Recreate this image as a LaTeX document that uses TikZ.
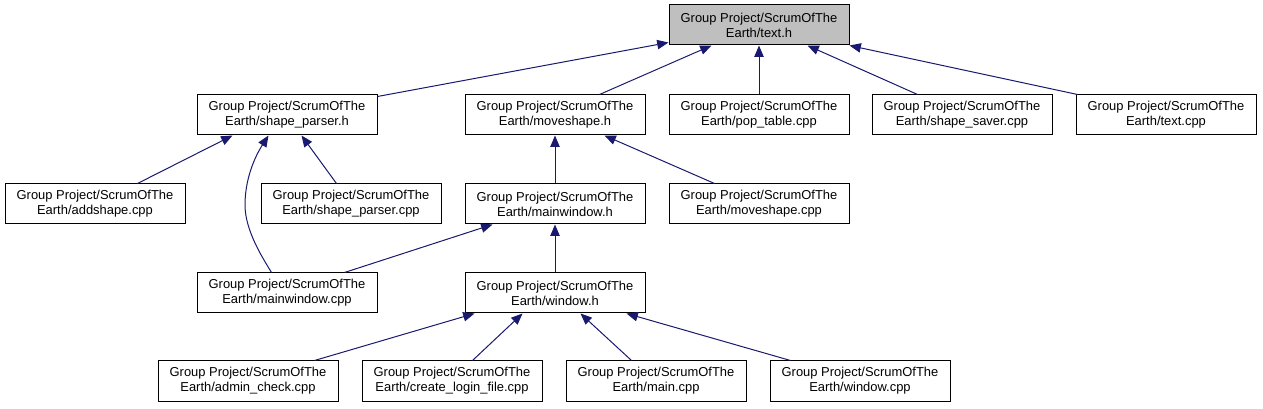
\documentclass[tikz,border=0pt]{standalone}
\usepackage{fontspec}
\setmainfont{Liberation Sans}
\usetikzlibrary{arrows.meta,calc}
\definecolor{edgeblue}{RGB}{25,25,112}
\definecolor{hilite}{RGB}{191,191,191}
\begin{document}
\begin{tikzpicture}[x=0.75pt,y=-0.75pt,
  filebox/.style={draw=black,line width=0.75pt,fill=white,minimum width=135pt,minimum height=30pt,inner sep=0pt,align=center,font=\fontsize{9.7pt}{11.25pt}\selectfont},
  dep/.style={draw=edgeblue,line width=0.75pt,-{Triangle[length=8.5pt,width=7pt]}}]
\useasboundingbox (0,0) rectangle (1263,409);
\fill[white] (0,0) rectangle (1263,409);
% nodes
\node[filebox,fill=hilite] (texth) at (759,25) {Group Project/ScrumOfThe\\Earth/text.h};
\node[filebox] (sph) at (287,115) {Group Project/ScrumOfThe\\Earth/shape\_parser.h};
\node[filebox] (mvh) at (555,115) {Group Project/ScrumOfThe\\Earth/moveshape.h};
\node[filebox] (pop) at (759,115) {Group Project/ScrumOfThe\\Earth/pop\_table.cpp};
\node[filebox] (ss) at (962,115) {Group Project/ScrumOfThe\\Earth/shape\_saver.cpp};
\node[filebox] (tcpp) at (1166,115) {Group Project/ScrumOfThe\\Earth/text.cpp};
\node[filebox] (adds) at (95,204) {Group Project/ScrumOfThe\\Earth/addshape.cpp};
\node[filebox] (spc) at (351,204) {Group Project/ScrumOfThe\\Earth/shape\_parser.cpp};
\node[filebox] (mwh) at (555,204) {Group Project/ScrumOfThe\\Earth/mainwindow.h};
\node[filebox] (mvc) at (759,204) {Group Project/ScrumOfThe\\Earth/moveshape.cpp};
\node[filebox] (mwc) at (287,293) {Group Project/ScrumOfThe\\Earth/mainwindow.cpp};
\node[filebox] (wh) at (555,293) {Group Project/ScrumOfThe\\Earth/window.h};
\node[filebox] (adm) at (248,381) {Group Project/ScrumOfThe\\Earth/admin\_check.cpp};
\node[filebox] (clf) at (452,381) {Group Project/ScrumOfThe\\Earth/create\_login\_file.cpp};
\node[filebox] (mcpp) at (656,381) {Group Project/ScrumOfThe\\Earth/main.cpp};
\node[filebox] (wcpp) at (860,381) {Group Project/ScrumOfThe\\Earth/window.cpp};
% edges
\draw[dep] ($(sph.north east)+(0,2)$) -- ($(texth.south west)+(0,-3)$);
\draw[dep] ($(mvh.north west)+(135,0)$) -- ($(texth.south west)+(43,0)$);
\draw[dep] (pop.north) -- (texth.south);
\draw[dep] ($(ss.north west)+(46,0)$) -- ($(texth.south west)+(139,0)$);
\draw[dep] ($(tcpp.north west)+(2,0)$) -- (texth.south east);
\draw[dep] ($(adds.north west)+(133,0)$) -- ($(sph.south west)+(36,0)$);
\draw[dep] ($(spc.north west)+(76,0)$) -- ($(sph.south west)+(105,0)$);
\draw[dep] ($(mwc.north west)+(75,0)$) .. controls (262,257) and (245,230) .. (245,205) .. controls (245,180) and (254,158) .. ($(sph.south west)+(72,0)$);
\draw[dep] (mwh.north) -- (mvh.south);
\draw[dep] ($(mvc.north west)+(46,0)$) -- ($(mvh.south west)+(140,0)$);
\draw[dep] ($(mwc.north west)+(148,0)$) -- ($(mwh.south west)+(28,0)$);
\draw[dep] (wh.north) -- (mwh.south);
\draw[dep] ($(adm.north west)+(157,0)$) -- ($(wh.south west)+(10,0)$);
\draw[dep] ($(clf.north west)+(111,0)$) -- ($(wh.south west)+(58,0)$);
\draw[dep] ($(mcpp.north west)+(66,0)$) -- ($(wh.south west)+(116,0)$);
\draw[dep] ($(wcpp.north west)+(21,0)$) -- ($(wh.south west)+(162,0)$);
\end{tikzpicture}
\end{document}
